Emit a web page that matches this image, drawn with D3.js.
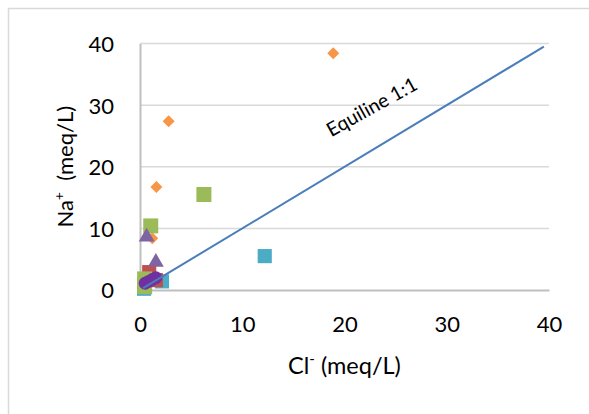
<!DOCTYPE html>
<html><head><meta charset="utf-8">
<script src="https://cdn.jsdelivr.net/npm/d3@7"></script>
<style>html,body{margin:0;padding:0;background:#fff;}svg{display:block;font-family:Lato,"Open Sans",sans-serif;}</style>
</head><body>
<svg id="c" width="589" height="414"></svg>
<script>
// ---- data ----
const xTicks = [0, 10, 20, 30, 40];
const yTicks = [0, 10, 20, 30, 40];
const orangeX = [18.9, 2.8, 1.6, 1.2];
const orangeY = [38.4, 27.4, 16.7, 8.4];
const tealX = [12.2, 2.15, 0.4];
const tealY = [5.5, 1.4, 0.2];
const redX = [0.9, 1.55];
const redY = [2.9, 1.6];
const greenX = [6.25, 1.05, 0.45, 0.45];
const greenY = [15.5, 10.4, 1.8, 0.55];
const triX = [0.65, 1.55];
const triY = [8.6, 4.5];
const circX = [0.5, 0.85, 1.2, 1.55];
const circY = [1.1, 1.4, 1.7, 2.0];
const equiline = [[0.3, 0.3], [39.5, 39.5]];
const equiLabel = "Equiline 1:1";
const equiLabelAt = [18.7, 24.8];

const svg = d3.select("#c");
svg.append("rect").attr("x",0).attr("y",0).attr("width",589).attr("height",414).attr("fill","#fff");
svg.append("rect").attr("x",8.5).attr("y",8.5).attr("width",620).attr("height",440)
  .attr("fill","none").attr("stroke","#d9d9d9").attr("stroke-width",1.5);

const x = d3.scaleLinear().domain([0,40]).range([140,549]);
const y = d3.scaleLinear().domain([0,40]).range([290,43.5]);

// gridlines
svg.append("g").selectAll("line").data(yTicks.filter(d=>d>0)).join("line")
  .attr("x1",x(0)).attr("x2",x(40)).attr("y1",d=>y(d)).attr("y2",d=>y(d))
  .attr("stroke","#d9d9d9").attr("stroke-width",1.5);

// axes
const xa = svg.append("g").attr("transform",`translate(0,${y(0)})`)
  .call(d3.axisBottom(x).tickValues(xTicks).tickSize(0).tickPadding(42).tickFormat(d3.format("d")));
const ya = svg.append("g").attr("transform",`translate(${x(0)},0)`)
  .call(d3.axisLeft(y).tickValues(yTicks).tickSize(0).tickPadding(26).tickFormat(d3.format("d")));
[xa,ya].forEach(a=>{
  a.select(".domain").attr("stroke","#bfbfbf").attr("stroke-width",2);
  a.selectAll("text").attr("font-family","Lato, sans-serif").attr("font-size",22).attr("fill","#000");
});
xa.selectAll("text").attr("dy","0");
ya.selectAll("text").attr("dy","0.36em");

// markers
const g = svg.append("g");
const sym = (type,size)=>d3.symbol().type(type).size(size)();
function pts(xs,ys,type,size,color){
  g.selectAll(null).data(xs.map((d,i)=>[d,ys[i]])).join("path")
    .attr("d",sym(type,size))
    .attr("transform",d=>`translate(${x(d[0])},${y(d[1])})`)
    .attr("fill",color);
}
pts(orangeX,orangeY,d3.symbolDiamond2,92,"#F79646");
pts(tealX,tealY,d3.symbolSquare,200,"#4BACC6");
pts(redX,redY,d3.symbolSquare,200,"#C0504D");
pts(greenX,greenY,d3.symbolSquare,225,"#9BBB59");
pts(triX,triY,d3.symbolTriangle,110,"#8064A2");
pts(circX,circY,d3.symbolCircle,130,"#7030A0");

// equiline
svg.append("path").datum(equiline)
  .attr("d",d3.line().x(d=>x(d[0])).y(d=>y(d[1])))
  .attr("stroke","#4A7EBB").attr("stroke-width",2).attr("fill","none");
svg.append("text").attr("transform",`translate(${x(equiLabelAt[0])},${y(equiLabelAt[1])}) rotate(-29)`)
  .attr("font-size",19.5).attr("fill","#000").text(equiLabel);

// axis titles
const xt = svg.append("text").attr("x",(x(0)+x(40))/2).attr("y",374).attr("text-anchor","middle")
  .attr("font-size",23.5).attr("fill","#000");
xt.append("tspan").text("Cl");
xt.append("tspan").attr("font-size",15).attr("dy",-10).text("-");
xt.append("tspan").attr("dy",10).text(" (meq/L)");
const yt = svg.append("text").attr("transform",`translate(73,${(y(0)+y(40))/2}) rotate(-90)`)
  .attr("text-anchor","middle").attr("font-size",22).attr("fill","#000");
yt.append("tspan").text("Na");
yt.append("tspan").attr("font-size",14).attr("dy",-9).text("+");
yt.append("tspan").attr("dy",9).text("\u00a0 (meq/L)");
</script>
</body></html>
